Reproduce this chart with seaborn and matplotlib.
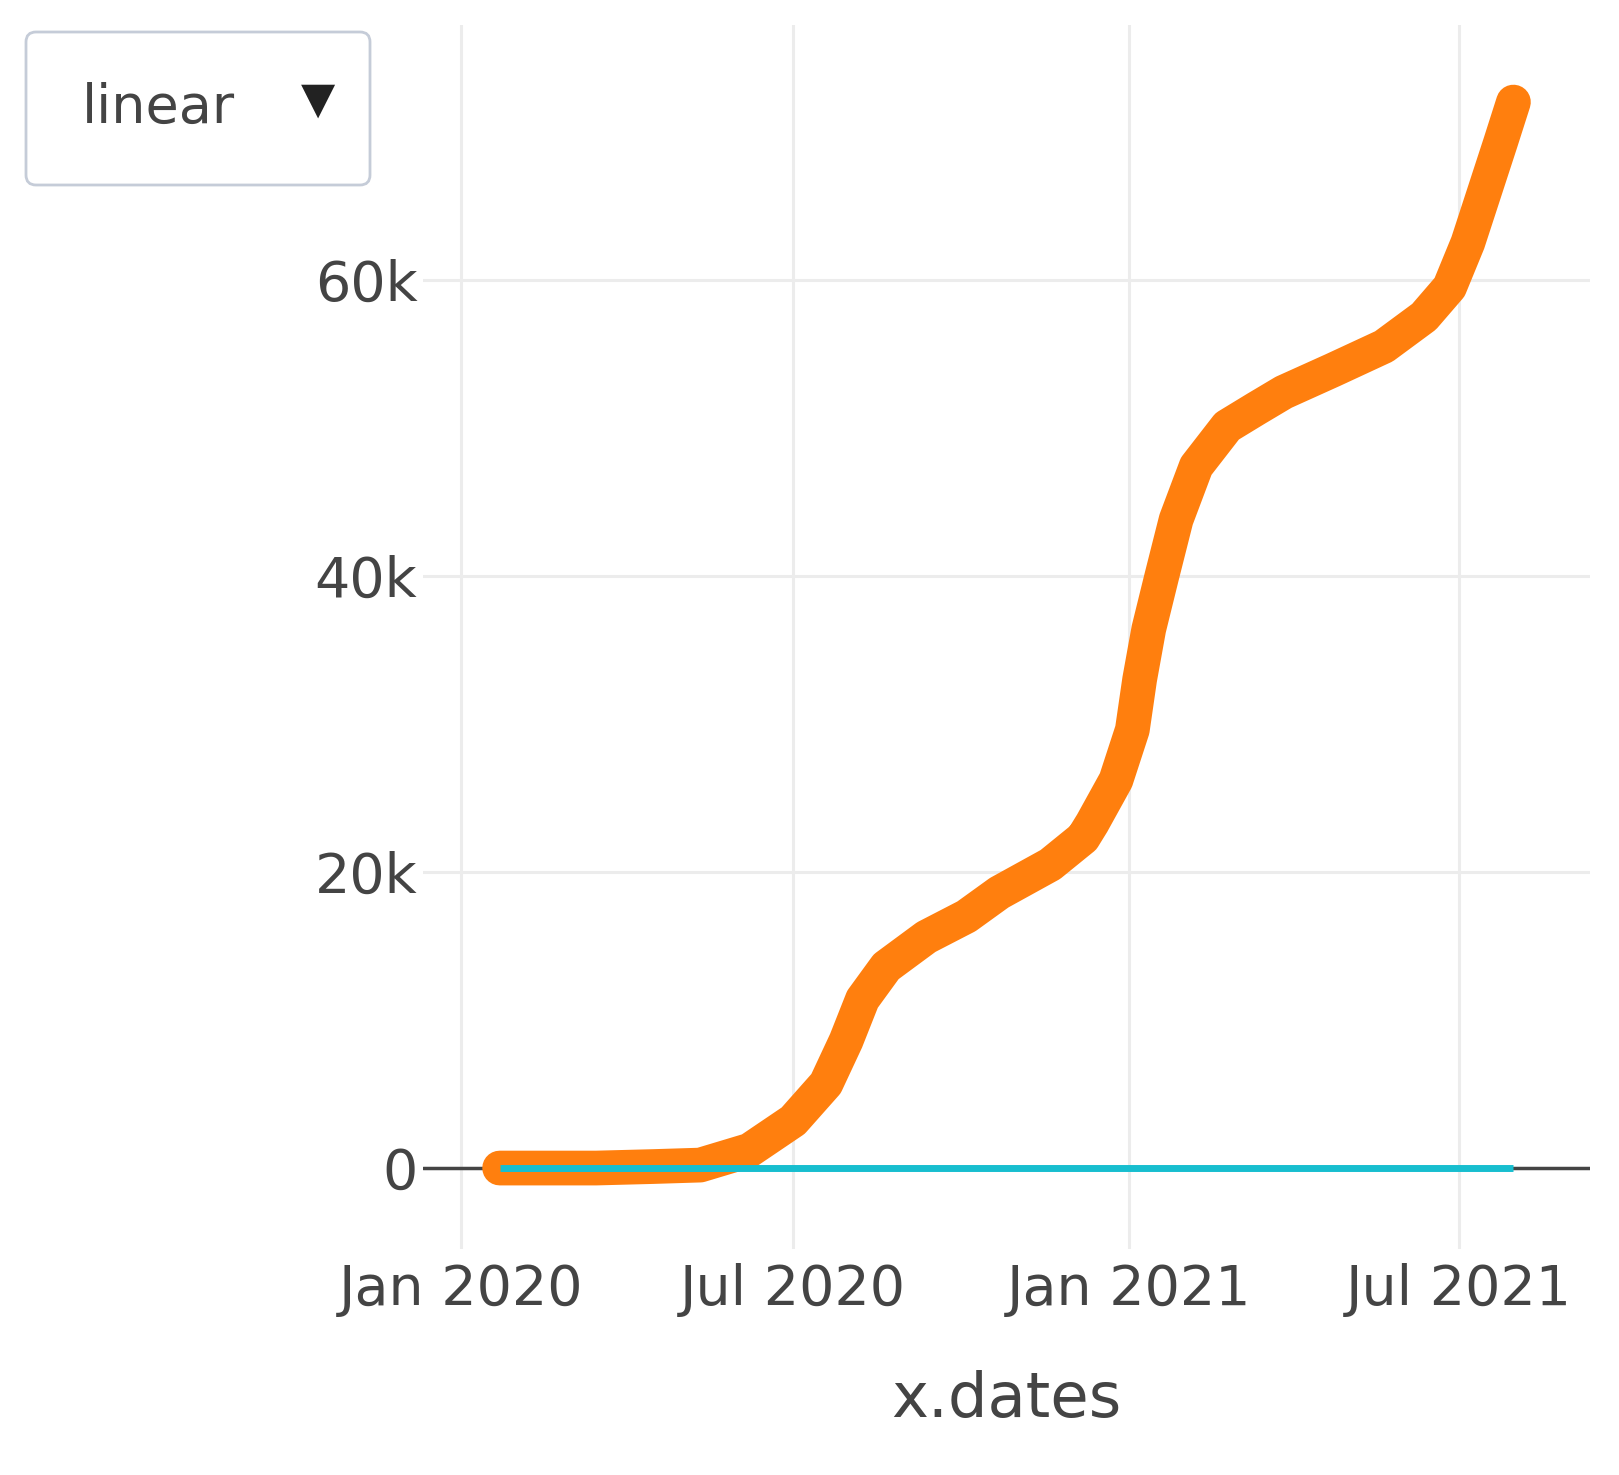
import matplotlib
matplotlib.use("Agg")
import matplotlib.pyplot as plt  # noqa: E402
from matplotlib.patches import FancyBboxPatch  # noqa: E402
from matplotlib.transforms import IdentityTransform  # noqa: E402
import pandas as pd  # noqa: E402
import seaborn as sns  # noqa: E402

# ---- data ----
DATES = [
    "2020-01-22", "2020-03-15", "2020-04-15", "2020-05-11", "2020-06-07",
    "2020-07-01", "2020-07-19", "2020-07-30", "2020-08-08", "2020-08-21",
    "2020-09-12", "2020-10-04", "2020-10-22", "2020-11-19", "2020-12-07",
    "2020-12-12", "2020-12-25", "2021-01-03", "2021-01-07", "2021-01-12",
    "2021-01-19", "2021-01-27", "2021-02-07", "2021-02-24", "2021-03-12",
    "2021-03-27", "2021-04-23", "2021-05-21", "2021-06-12", "2021-06-26",
    "2021-07-06", "2021-07-15", "2021-07-24", "2021-07-31",
]
TRACE_1 = [
    0, 0, 100, 200, 1200,
    3200, 5700, 8600, 11400, 13600,
    15600, 17000, 18600, 20500, 22300,
    23300, 26200, 29600, 33000, 36400,
    39900, 43800, 47400, 50100, 51300,
    52400, 53900, 55500, 57500, 59500,
    62500, 65900, 69300, 72000,
]
TRACE_2_DATES = ["2020-01-22", "2021-07-31"]
TRACE_2 = [0, 0]

XTICKS = ["2020-01-01", "2020-07-01", "2021-01-01", "2021-07-01"]
XTICK_LABELS = ["Jan 2020", "Jul 2020", "Jan 2021", "Jul 2021"]
YTICKS = [0, 20000, 40000, 60000]
YTICK_LABELS = ["0", "20k", "40k", "60k"]

TEXT = "#444444"

sns.set_theme(style="whitegrid")
plt.rcParams["font.family"] = ["DejaVu Sans"]

fig = plt.figure(figsize=(16.19, 14.75), dpi=100)
fig.patch.set_facecolor("white")
ax = fig.add_axes([0.2613, 0.1532, 0.7208, 0.8298])
ax.set_facecolor("white")

df1 = pd.DataFrame({"x.dates": pd.to_datetime(DATES), "value": TRACE_1})
df2 = pd.DataFrame({"x.dates": pd.to_datetime(TRACE_2_DATES), "value": TRACE_2})

ax.axhline(0, color=TEXT, lw=2.5, zorder=2)
sns.lineplot(data=df1, x="x.dates", y="value", color="#ff7f0e",
             linewidth=25, solid_capstyle="round", solid_joinstyle="round",
             ax=ax, zorder=3)
sns.lineplot(data=df2, x="x.dates", y="value", color="#17becf",
             linewidth=5, solid_capstyle="butt", ax=ax, zorder=4)

ax.set_xlim(pd.Timestamp("2019-12-11"), pd.Timestamp("2021-09-11"))
ax.set_ylim(-5470, 77200)
ax.set_xticks(pd.to_datetime(XTICKS))
ax.set_xticklabels(XTICK_LABELS)
ax.set_yticks(YTICKS)
ax.set_yticklabels(YTICK_LABELS)
ax.tick_params(length=0, labelsize=40, labelcolor=TEXT)
ax.tick_params(axis="x", pad=10)
ax.tick_params(axis="y", pad=4)
ax.grid(color="#ececec", lw=2.2)
for s in ax.spines.values():
    s.set_visible(False)

ax.set_ylabel("")
ax.set_xlabel("x.dates", fontsize=45, color=TEXT)
ax.xaxis.set_label_coords(0.5, -0.1373)
ax.xaxis.label.set_va("baseline")

# dropdown button (top left)
box = FancyBboxPatch((26, 1475 - 185), 344, 153,
                     boxstyle="round,pad=0,rounding_size=10",
                     transform=IdentityTransform(), fc="white",
                     ec="#c5ccd8", lw=2)
fig.add_artist(box)
fig.text(82 / 1619, 1 - 123 / 1475, "linear", fontsize=39, color=TEXT,
         va="baseline", ha="left")
fig.text(318 / 1619, 1 - 100 / 1475, "▼", fontsize=32, color="#222222",
         va="center", ha="center")

fig.savefig("out.png", dpi=100)
